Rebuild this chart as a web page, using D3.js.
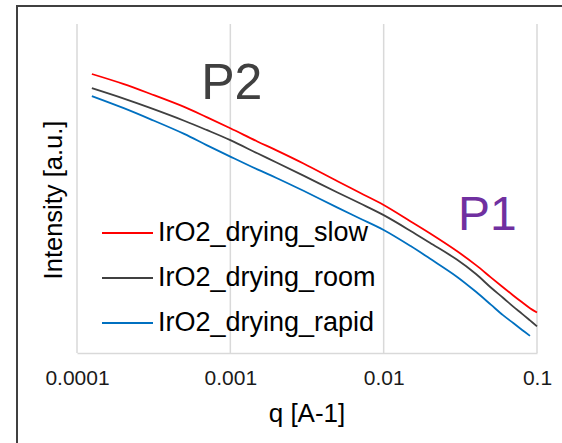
<!DOCTYPE html>
<html>
<head>
<meta charset="utf-8">
<script src="https://cdn.jsdelivr.net/npm/d3@7"></script>
<style>
  html, body { margin: 0; padding: 0; background: #fff; }
  svg { display: block; font-family: "Liberation Sans", Arial, sans-serif; }
</style>
</head>
<body>
<svg id="chart" width="562" height="443"></svg>
<script>
// ---- data ----
const qValues = [1.25e-4, 2e-4, 3e-4, 5e-4, 7e-4, 1e-3, 1.5e-3, 2e-3, 3e-3, 5e-3, 7e-3,
                 1e-2, 1.5e-2, 2e-2, 3e-2, 4e-2, 5e-2, 6e-2, 7e-2, 8e-2, 9e-2, 1e-1];
// log-intensity (arbitrary units)
const slowValues  = [8.48, 8.18, 7.88, 7.48, 7.17, 6.83, 6.43, 6.16, 5.76, 5.22, 4.87,
                     4.50, 4.00, 3.64, 3.10, 2.67, 2.30, 2.00, 1.75, 1.54, 1.36, 1.23];
const roomValues  = [8.05, 7.74, 7.45, 7.06, 6.78, 6.47, 6.07, 5.79, 5.39, 4.88, 4.55,
                     4.19, 3.71, 3.35, 2.84, 2.40, 1.99, 1.68, 1.41, 1.19, 0.99, 0.81];
const rapidValues = [7.81, 7.45, 7.11, 6.66, 6.32, 5.97, 5.58, 5.32, 4.93, 4.42, 4.09,
                     3.74, 3.25, 2.87, 2.32, 1.86, 1.47, 1.15, 0.91, 0.70, 0.52, null];
const seriesNames = ["IrO2_drying_slow", "IrO2_drying_room", "IrO2_drying_rapid"];
const seriesColors = ["#ff0000", "#404040", "#0070c0"];
const xTicks = [0.0001, 0.001, 0.01, 0.1];
const xTickLabels = ["0.0001", "0.001", "0.01", "0.1"];
const xTitle = "q [A-1]";
const yTitle = "Intensity [a.u.]";
const annotations = [
  { text: "P2", q: 0.000645, v: 7.71, color: "#404040", size: 50 },
  { text: "P1", q: 0.0305, v: 3.74, color: "#7030a0", size: 48 }
];

// ---- layout ----
const svg = d3.select("#chart");
const plot = { left: 77, right: 537, top: 24, bottom: 353 };

const x = d3.scaleLog().domain([1e-4, 1e-1]).range([plot.left, plot.right]);
const y = d3.scaleLinear().domain([0, 10]).range([plot.bottom, plot.top]);

// outer frame (clipped by the window on right/bottom)
svg.append("rect")
  .attr("x", 17).attr("y", 6).attr("width", 620).attr("height", 520)
  .attr("fill", "none").attr("stroke", "#404040").attr("stroke-width", 2);

// vertical gridlines
svg.append("g").selectAll("line").data(xTicks).join("line")
  .attr("x1", d => x(d)).attr("x2", d => x(d))
  .attr("y1", plot.top).attr("y2", plot.bottom)
  .attr("stroke", "#d9d9d9").attr("stroke-width", 1.5);

// x axis
const xAxis = d3.axisBottom(x).tickValues(xTicks)
  .tickFormat((d, i) => xTickLabels[i]).tickSize(0).tickPadding(17);
const gx = svg.append("g").attr("transform", `translate(0,${plot.bottom})`).call(xAxis);
gx.select(".domain").attr("stroke", "#d9d9d9").attr("stroke-width", 1.5);
gx.selectAll("text").attr("font-size", 21).attr("fill", "#1a1a1a")
  .attr("font-family", "Liberation Sans, Arial, sans-serif");

// axis titles
svg.append("text").attr("x", 307).attr("y", 422).attr("text-anchor", "middle")
  .attr("font-size", 26).attr("fill", "#000").text(xTitle);
svg.append("text").attr("transform", "translate(62,200) rotate(-90)")
  .attr("text-anchor", "middle").attr("font-size", 25.5).attr("fill", "#000").text(yTitle);

// lines
const allSeries = [slowValues, roomValues, rapidValues];
const line = d3.line()
  .defined(d => d.v !== null)
  .x(d => x(d.q)).y(d => y(d.v))
  .curve(d3.curveCatmullRom.alpha(0.5));

allSeries.forEach((vals, i) => {
  const pts = qValues.map((q, j) => ({ q, v: vals[j] }));
  svg.append("path").datum(pts)
    .attr("d", line)
    .attr("fill", "none")
    .attr("stroke", seriesColors[i])
    .attr("stroke-width", 1.8);
});

// legend
const legend = svg.append("g");
seriesNames.forEach((name, i) => {
  const ly = 233 + i * 45;
  legend.append("line").attr("x1", 102).attr("x2", 153).attr("y1", ly).attr("y2", ly)
    .attr("stroke", seriesColors[i]).attr("stroke-width", 1.8);
  legend.append("text").attr("x", 158).attr("y", ly + 8)
    .attr("font-size", 27).attr("fill", "#000").text(name);
});

// annotations
annotations.forEach(a => {
  svg.append("text").attr("x", x(a.q)).attr("y", y(a.v))
    .attr("font-size", a.size).attr("fill", a.color).text(a.text);
});
</script>
</body>
</html>
